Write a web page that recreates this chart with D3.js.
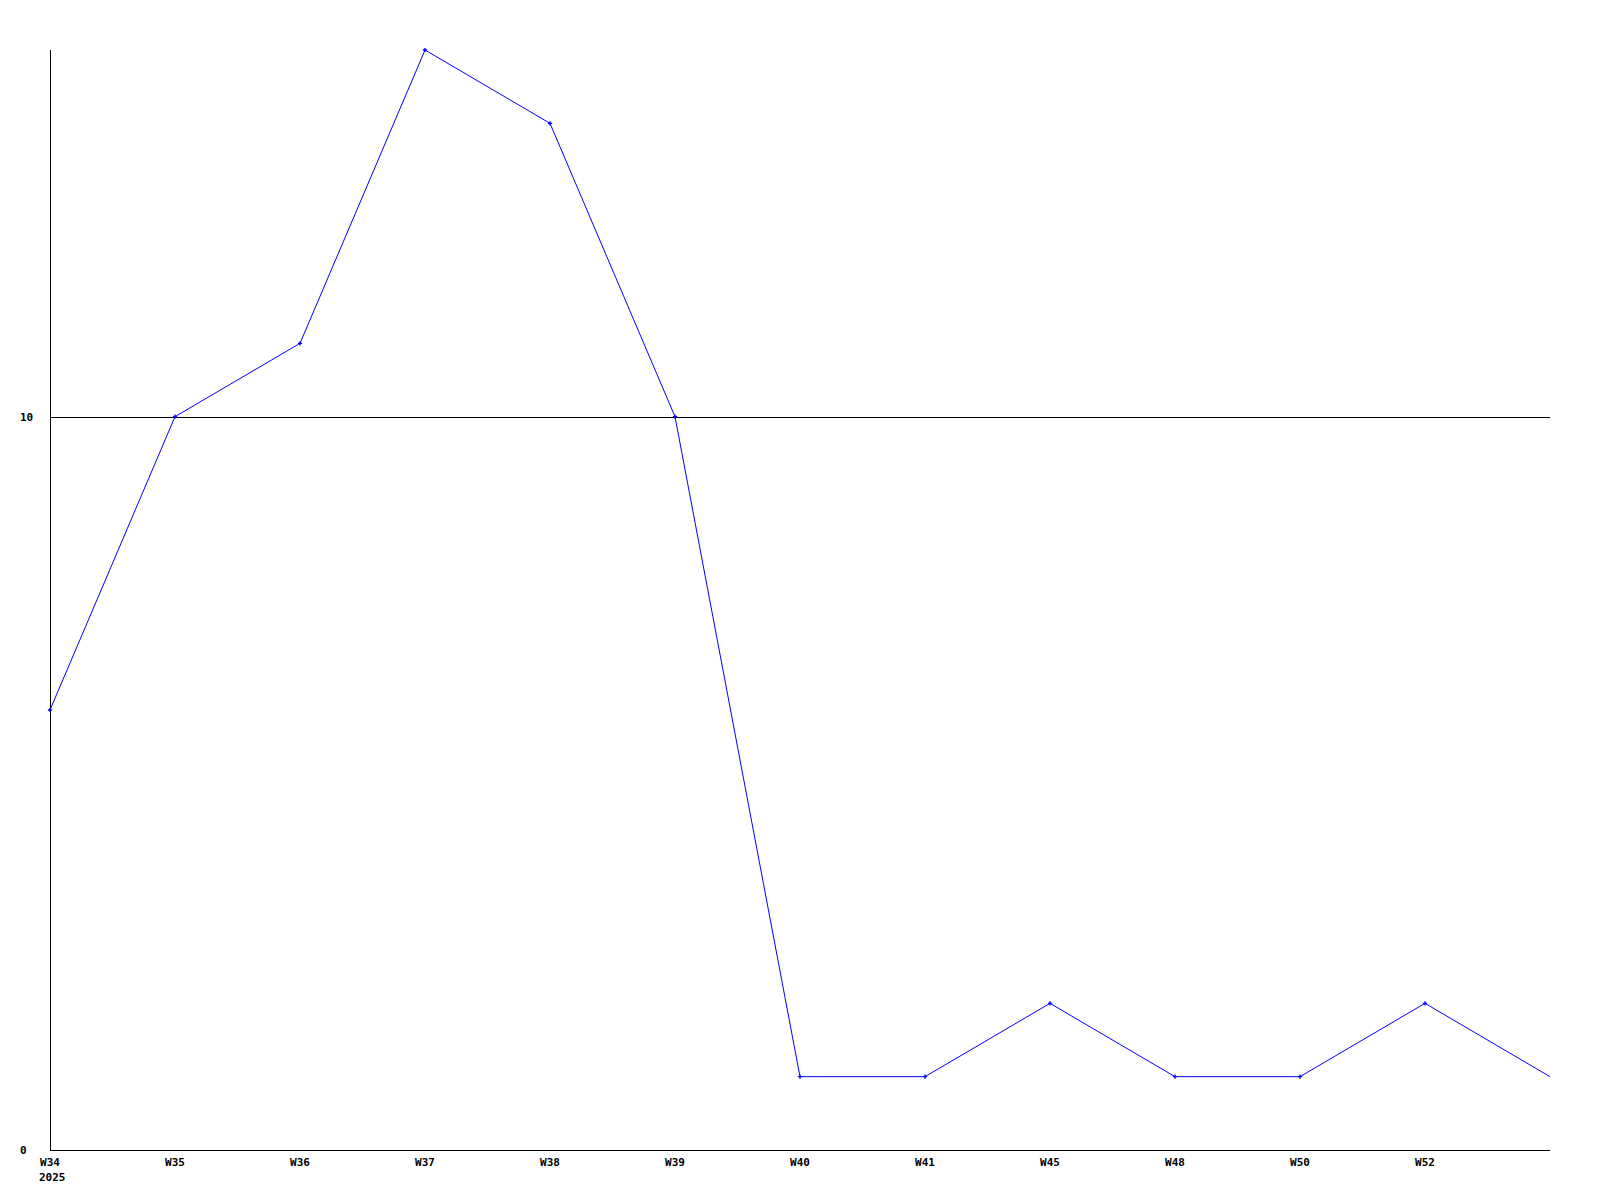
<!DOCTYPE html>
<html>
<head>
<meta charset="utf-8">
<script src="https://cdn.jsdelivr.net/npm/d3@7"></script>
<style>
  body { margin: 0; background: #fff; }
  text { font-family: "DejaVu Sans Mono", monospace; font-weight: bold; font-size: 11px; fill: #000; }
</style>
</head>
<body>
<div id="chart"></div>
<script>
// week labels (last point has no label and no marker)
const weeks = ["W34", "W35", "W36", "W37", "W38", "W39", "W40", "W41", "W45", "W48", "W50", "W52", ""];
const counts = [6, 10, 11, 15, 14, 10, 1, 1, 2, 1, 1, 2, 1];
const yTicks = [0, 10];
const yearLabel = "2025";

const width = 1600, height = 1200;
const margin = { left: 50, right: 50, top: 50, bottom: 50 };

const svg = d3.select("#chart").append("svg")
    .attr("width", width)
    .attr("height", height);

const x = d3.scalePoint()
    .domain(d3.range(weeks.length))
    .range([margin.left, width - margin.right]);

const y = d3.scaleLinear()
    .domain([0, 15])
    .range([height - margin.bottom, margin.top]);

// horizontal line at 10
yTicks.filter(t => t > 0).forEach(t => {
    svg.append("line")
        .attr("x1", margin.left).attr("x2", width - margin.right)
        .attr("y1", Math.round(y(t)) + 0.5).attr("y2", Math.round(y(t)) + 0.5)
        .style("stroke", "black");
});

// y axis tick labels
yTicks.forEach(t => {
    svg.append("text")
        .attr("x", 20)
        .attr("y", y(t))
        .attr("dy", "0.35em")
        .text(t);
});

// axes
svg.append("line")
    .attr("x1", margin.left + 0.5).attr("x2", margin.left + 0.5)
    .attr("y1", margin.top).attr("y2", height - margin.bottom)
    .style("stroke", "black");
svg.append("line")
    .attr("x1", margin.left).attr("x2", width - margin.right)
    .attr("y1", height - margin.bottom + 0.5).attr("y2", height - margin.bottom + 0.5)
    .style("stroke", "black");

// x labels
weeks.forEach((w, i) => {
    svg.append("text")
        .attr("x", x(i))
        .attr("y", height - margin.bottom + 16)
        .attr("text-anchor", "middle")
        .text(w);
});
svg.append("text")
    .attr("x", margin.left - 11)
    .attr("y", height - margin.bottom + 31)
    .text(yearLabel);

// the line
const line = d3.line()
    .x((d, i) => x(i))
    .y(d => y(d));

svg.append("path")
    .datum(counts)
    .attr("d", line)
    .style("fill", "none")
    .style("stroke", "#0000ff")
    .style("stroke-width", 1);

// point markers (only for labelled weeks)
svg.selectAll(".pt")
    .data(counts.filter((d, i) => weeks[i] !== ""))
    .enter().append("path")
    .attr("class", "pt")
    .attr("transform", (d, i) => `translate(${x(i)},${y(d)})`)
    .attr("d", d3.symbol(d3.symbolCross, 10))
    .style("fill", "#0000ff");
</script>
</body>
</html>
